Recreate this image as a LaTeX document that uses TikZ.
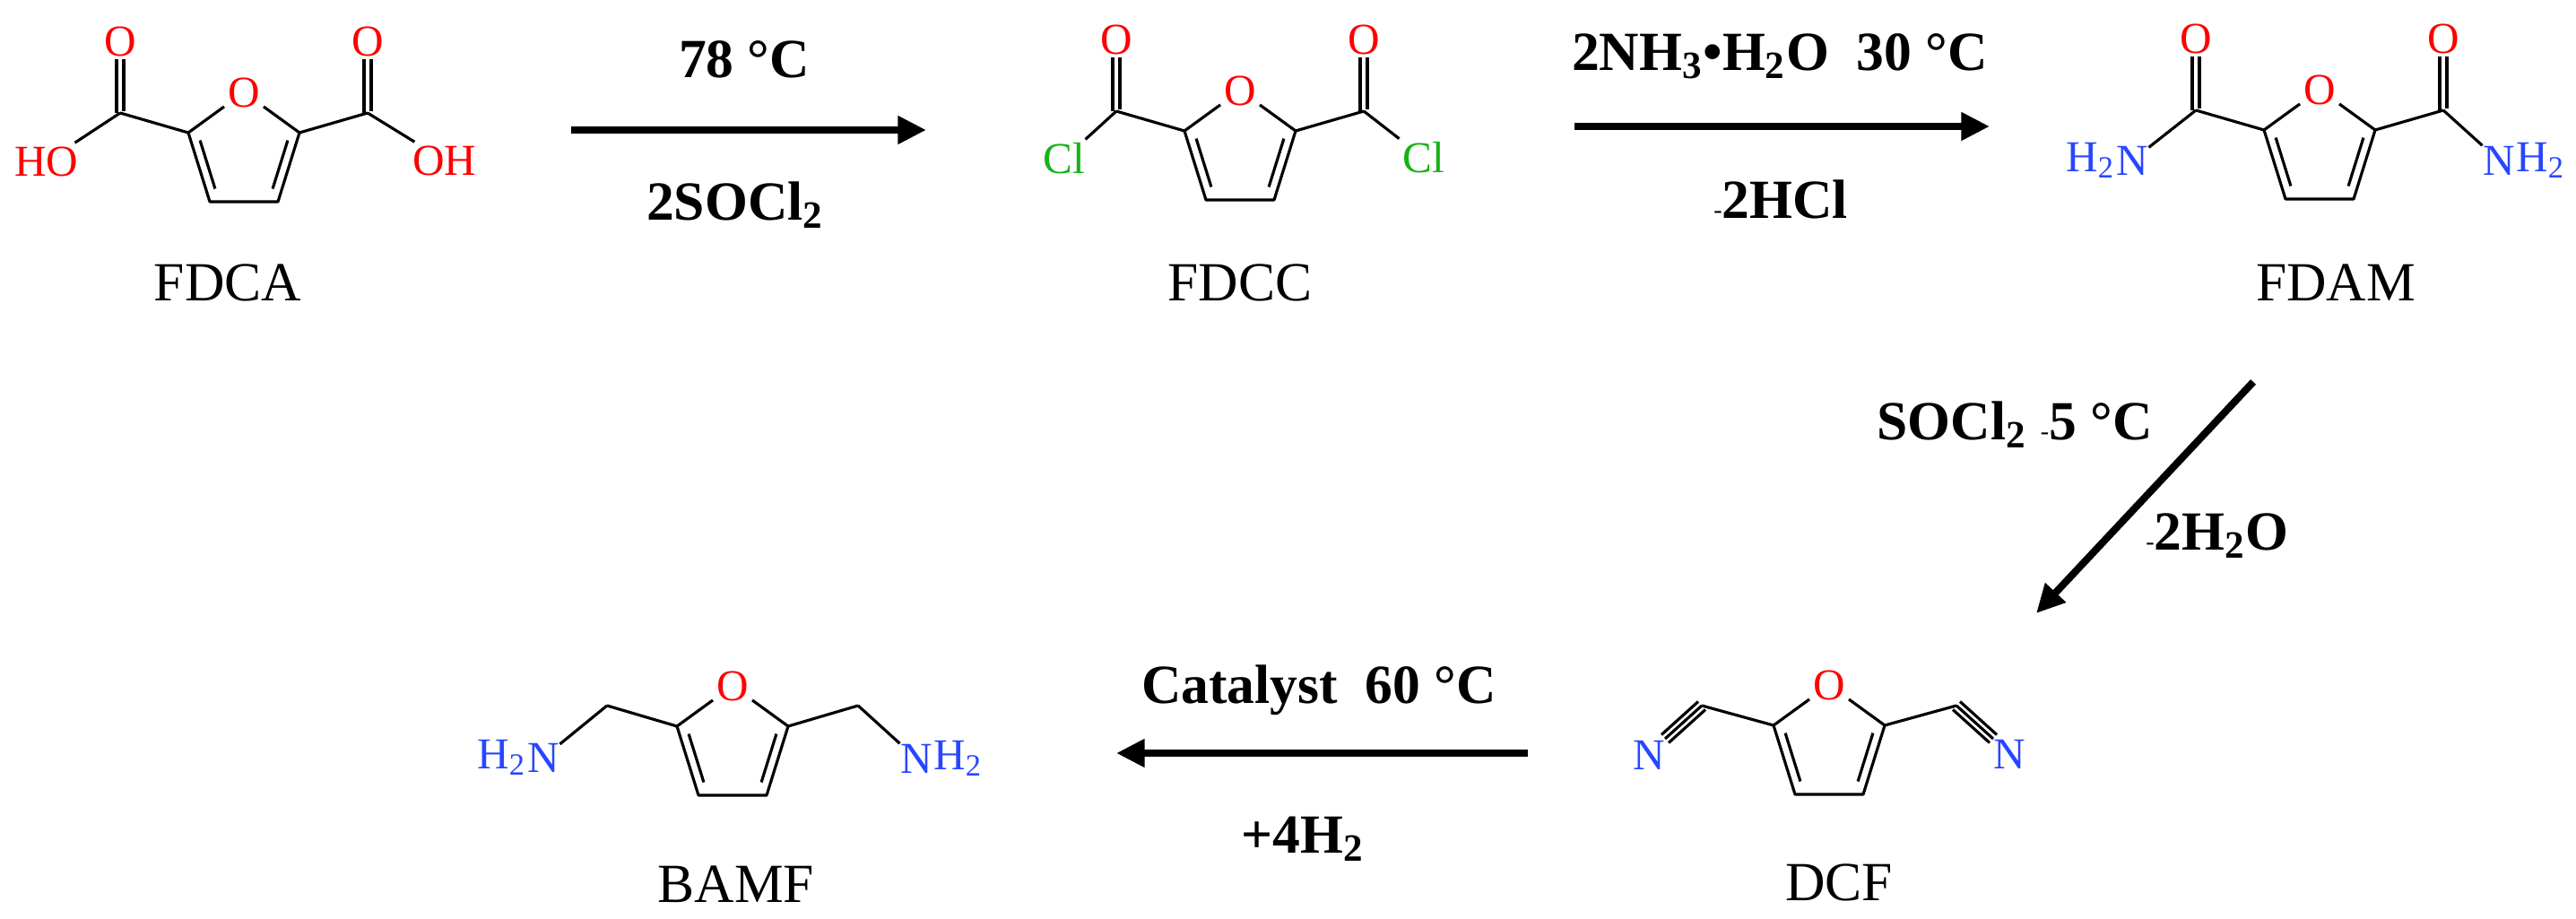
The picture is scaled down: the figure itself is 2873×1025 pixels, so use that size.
\documentclass[tikz,border=0pt]{standalone}
\usepackage{fontspec}
\setmainfont{Liberation Serif}
\usetikzlibrary{arrows.meta}
\definecolor{atred}{RGB}{255,0,0}
\definecolor{atgreen}{RGB}{20,180,20}
\definecolor{atblue}{RGB}{40,70,255}
\tikzset{
  bond/.style={line width=0.9pt},
  atom/.style={inner sep=1pt, font=\fontsize{14}{14}\selectfont},
  lab/.style={inner sep=0pt, font=\fontsize{17.5}{18}\selectfont},
  cond/.style={inner sep=0pt, font=\fontsize{17.5}{18}\selectfont\bfseries},
  rxn/.style={line width=2.3pt, -{Triangle[length=9pt,width=8.5pt]}}
}
\newcommand\furanring[1]{%
  \node[atom,text=atred] (#1o) at (0,0) {O};
  \coordinate (#1c2) at (-62,45);
  \coordinate (#1c5) at (62,45);
  \coordinate (#1c3) at (-38,122);
  \coordinate (#1c4) at (38,122);
  \draw[bond,line join=round] (#1o) -- (#1c2) -- (#1c3) -- (#1c4) -- (#1c5) -- (#1o);
  \draw[bond] (-48.9,53.6) -- (-32.1,107.5);
  \draw[bond] (48.9,53.6) -- (32.1,107.5);
}
\newcommand\carbonyl[2]{% prefix, side sign
  \coordinate (#1k) at (#2*138,23);
  \node[atom,text=atred] (#1ko) at (#2*138,-57) {O};
  \draw[bond] (#2*138-4,23) -- (#2*138-4,-37);
  \draw[bond] (#2*138+4,21) -- (#2*138+4,-37);
}
\begin{document}
\begin{tikzpicture}[x=0.01cm,y=-0.01cm]
\useasboundingbox (0,0) rectangle (2873,1025);
% FDCA
\begin{scope}[shift={(272,103)}]
  \furanring{A}
  \carbonyl{AL}{-1}
  \draw[bond] (Ac2) -- (ALk);
  \carbonyl{AR}{1}
  \draw[bond] (Ac5) -- (ARk);
  \node[atom,text=atred] (Aho) at (-220,77) {HO};
  \node[atom,text=atred] (Aoh) at (224,76) {OH};
  \draw[bond] (ALk) -- (Aho);
  \draw[bond] (ARk) -- (Aoh);
  \node[lab] (FDCA) at (-18,212) {FDCA};
\end{scope}
% FDCC
\begin{scope}[shift={(1383,101)}]
  \furanring{B}
  \carbonyl{BL}{-1}
  \draw[bond] (Bc2) -- (BLk);
  \carbonyl{BR}{1}
  \draw[bond] (Bc5) -- (BRk);
  \node[atom,text=atgreen] (Bcl1) at (-196,76) {Cl};
  \node[atom,text=atgreen] (Bcl2) at (205,75) {Cl};
  \draw[bond] (BLk) -- (Bcl1);
  \draw[bond] (BRk) -- (Bcl2);
  \node[lab] (FDCC) at (0,214) {FDCC};
\end{scope}
% FDAM
\begin{scope}[shift={(2587,100)}]
  \furanring{C}
  \carbonyl{CL}{-1}
  \draw[bond] (Cc2) -- (CLk);
  \carbonyl{CR}{1}
  \draw[bond] (Cc5) -- (CRk);
  \node[atom,text=atblue,inner xsep=0pt] (Cn1) at (-209,79) {N};
  \node[atom,text=atblue,anchor=east,inner xsep=0pt] (Ch1) at (Cn1.west) {H\textsubscript{2}};
  \node[atom,text=atblue,inner xsep=0pt] (Cn2) at (200,79) {N};
  \node[atom,text=atblue,anchor=west,inner xsep=0pt] (Ch2) at (Cn2.east) {H\textsubscript{2}};
  \draw[bond] (CLk) -- (Cn1);
  \draw[bond] (CRk) -- (Cn2);
  \node[lab] (FDAM) at (18,215) {FDAM};
\end{scope}
% DCF
\begin{scope}[shift={(2040,764)}]
  \furanring{D}
  \coordinate (Dk1) at (-142,23);
  \coordinate (Dk2) at (142,23);
  \draw[bond] (Dc2) -- (Dk1);
  \draw[bond] (Dc5) -- (Dk2);
  \node[atom,text=atblue] (Dn1) at (-201,78) {N};
  \node[atom,text=atblue] (Dn2) at (201,77) {N};
  \draw[bond] (Dk2) -- (183,60);
  \draw[bond] (146,18.5) -- (187,55.5);
  \draw[bond] (138,27.5) -- (179,64.5);
  \draw[bond] (Dk1) -- (-183,60);
  \draw[bond] (-146,18.5) -- (-187,55.5);
  \draw[bond] (-138,27.5) -- (-179,64.5);
  \node[lab] (DCF) at (11,220) {DCF};
\end{scope}
% BAMF
\begin{scope}[shift={(817,765)}]
  \furanring{E}
  \coordinate (Ek1) at (-140,22);
  \coordinate (Ek2) at (140,22);
  \draw[bond] (Ec2) -- (Ek1);
  \draw[bond] (Ec5) -- (Ek2);
  \node[atom,text=atblue,inner xsep=0pt] (En1) at (-211,80) {N};
  \node[atom,text=atblue,anchor=east,inner xsep=0pt] (Eh1) at (En1.west) {H\textsubscript{2}};
  \node[atom,text=atblue,inner xsep=0pt] (En2) at (205,81) {N};
  \node[atom,text=atblue,anchor=west,inner xsep=0pt] (Eh2) at (En2.east) {H\textsubscript{2}};
  \draw[bond] (Ek1) -- (En1);
  \draw[bond] (Ek2) -- (En2);
  \node[lab] (BAMF) at (4,221) {BAMF};
\end{scope}
% arrows
\coordinate (a1s) at (637,145); \coordinate (a1e) at (1033,145);
\draw[rxn] (a1s) -- (a1e);
\node[cond] (t1) at (830,66) {78 °C};
\node[cond] (b1) at (820,229) {2SOCl\textsubscript{2}};
\coordinate (a2s) at (1756,141); \coordinate (a2e) at (2219,141);
\draw[rxn] (a2s) -- (a2e);
\node[cond] (t2) at (1985,63) {2NH\textsubscript{3}•H\textsubscript{2}O\ \ 30 °C};
\node[cond] (b2) at (1986,222) {{\mdseries\footnotesize-}2HCl};
\coordinate (a3s) at (2513,426); \coordinate (a3e) at (2271,684);
\draw[rxn] (a3s) -- (a3e);
\node[cond] (t3) at (2247,474) {SOCl\textsubscript{2} {\mdseries\footnotesize-}5 °C};
\node[cond] (b3) at (2473,598) {{\mdseries\footnotesize-}2H\textsubscript{2}O};
\coordinate (a4s) at (1704,840); \coordinate (a4e) at (1245,840);
\draw[rxn] (a4s) -- (a4e);
\node[cond] (t4) at (1471,770) {Catalyst\ \ 60 °C};
\node[cond] (b4) at (1453,936) {+4H\textsubscript{2}};
\end{tikzpicture}
\end{document}
